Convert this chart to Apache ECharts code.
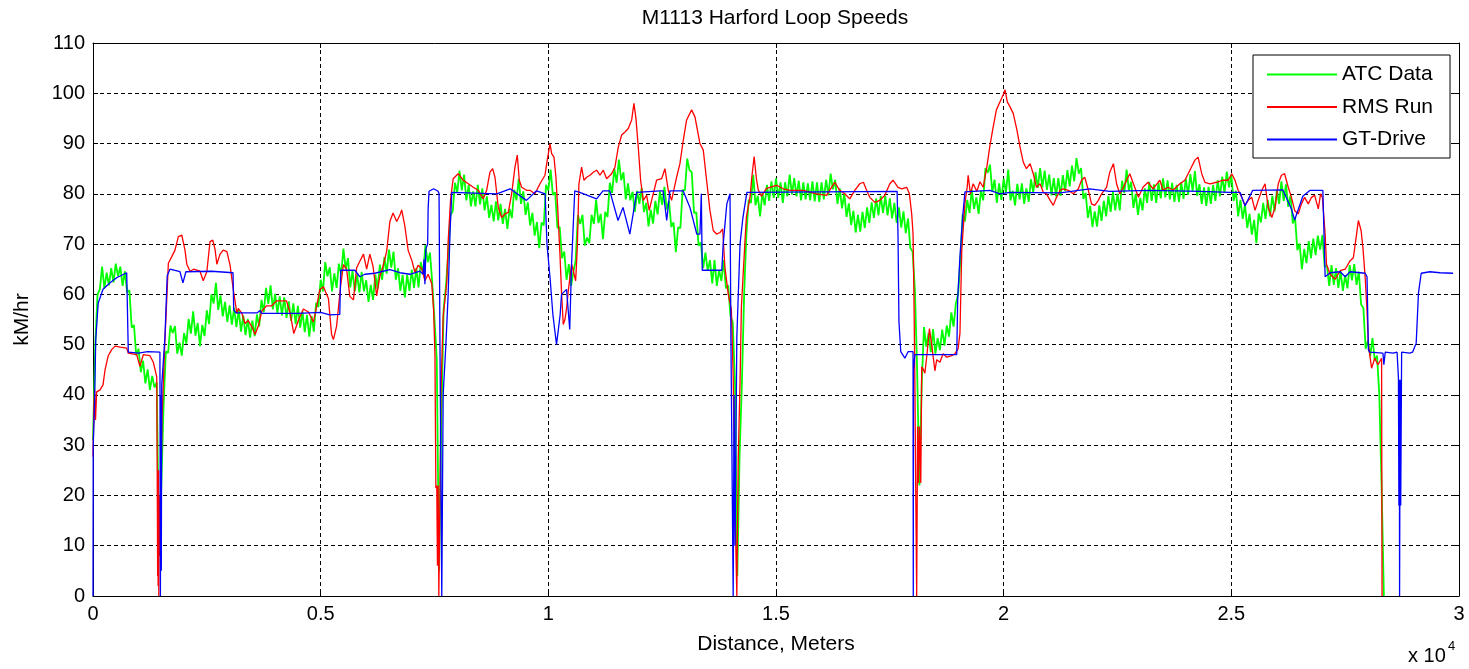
<!DOCTYPE html>
<html><head><meta charset="utf-8">
<script src="https://cdn.jsdelivr.net/npm/echarts@6/dist/echarts.min.js"></script>
<style>html,body{margin:0;padding:0;background:#fff}#c{width:1469px;height:669px}</style>
</head><body><div id="c"></div>
<script>
const chartTitle = 'M1113 Harford Loop Speeds';
const seriesNames = ['ATC Data', 'RMS Run', 'GT-Drive'];
const xTickLabels = ['0', '0.5', '1', '1.5', '2', '2.5', '3'];
const xAxisName = 'Distance, Meters';
const yAxisName = 'kM/hr';

// ATC Data: speed sampled every 50 m, starting at 0 m
const atcStep = 50;
const atcSpeed = [
31,50,60,61,65.5,61.2,64.3,61.8,65.2,62.4,66.1,63.6,65.5,61.7,64.6,60.4,60.8,53.4,53.9,47.8,
49.2,44.5,46.8,42.3,45.1,41,43.8,41.5,42.5,8,22,38,48.6,48.4,53.8,52.3,53.7,48.2,50.4,47.8,
52.3,50.2,55.1,52.2,56.6,51.8,54.3,49.7,53.9,51.7,56.8,54.1,60,58.2,62.3,56.9,59.8,55.6,58.5,54.5,
57.8,54,57.3,53.5,56.9,52.6,55.8,51.9,55.1,51.4,54.8,51.7,56,53.6,58.9,56.4,61.3,58.1,61.8,57,
60.1,56.2,59.6,55.8,59.4,55.3,58.6,54.7,58.2,54.1,57.7,53.4,56.6,52.5,55.9,51.6,55.7,52.6,58.3,57.5,
62.9,60.6,66.4,63.6,65.4,60.6,64.2,61.3,66.1,63.9,69.1,65,67.2,61.4,64.7,60.6,64,60.4,64.5,60.6,
62.8,58.5,61.9,58.9,63.9,61.1,65.9,62.9,67.4,64.1,68.9,65.3,68.5,62.9,65.2,60.7,63.9,59.4,63.9,60.7,
64.9,61.3,65.2,61.4,66.4,64.1,69.8,66.4,68.3,62.4,55,47,5,35,57,61.5,68,75.8,76.5,82.2,
80.3,84.6,80.7,83.8,78.7,81.8,77.5,80.5,77.5,81.8,77.9,81.1,76.7,79.5,75.2,77.8,74.5,78.5,74.7,78,
74,77,73,77,75.2,80.8,78.7,83,78,80.5,75.8,78.3,73.7,76.2,71.7,74.4,69.2,74.3,73.7,81.8,
80.7,84.8,79.8,80.3,73.2,73.4,67.2,68.5,62.9,66,61.7,64.5,66.7,75.8,74,75.8,69.7,71.3,70.2,75.8,
74,78.8,74.2,76,71,76.4,75.4,82.2,80.2,85,82.2,86.8,82.7,84.3,78.9,82.1,78.7,80.4,76.4,80.6,
78,81.2,76.4,78.2,73.5,76.8,74.1,78.6,75.9,80.5,77.8,81.4,76.9,78.6,73.4,74.3,68.4,73.3,73.2,80.8,
80.7,87,84.7,84.3,76.2,76.3,69.7,70.3,65.2,68.3,64.7,66.8,62.2,66.8,61.7,64.8,62.7,66.8,61.2,61.8,
55.7,54.5,42,4,28,42,60,72,78.8,78.2,83.8,77.7,79.6,75.5,80.1,77.7,81.8,78.6,82.5,79.2,
83.1,79.2,82.3,78.2,82.3,79.5,83.8,79.9,83.1,79.5,82.6,78.7,82.3,78.9,82.1,78.7,82.5,78.5,82.3,78.4,
82.3,78.9,82.8,79.7,84,80.9,82.8,78,81.1,77.1,80.1,75.4,78.1,73.8,76.6,72.3,75.8,72.5,76.4,73.2,
77.3,74.2,78.3,75.2,79.1,75.7,79.6,76.2,79.6,75.7,79.1,75.1,78.2,74.2,77.3,73.3,76.5,72.2,75.1,69.2,
68.5,61,45,22,42,53.5,49.6,52.3,48.5,53.1,48.2,51.3,48.9,53,49.8,53.8,51.6,56.4,53.6,58.2,
60,67,76,74.5,78.8,76.2,80.8,77,79.3,76,80.6,78.7,85.1,84.2,85.8,80.4,82.8,78.2,82.1,78.8,
83,80.2,84.8,78.7,80.6,77.7,82,78.9,82.1,78,81.1,78.4,82.9,80.2,84.3,81.2,85.1,81.3,84.6,80.8,
83.8,79.7,83.1,79.5,83.1,79.6,83.7,80.6,84.7,81.5,85.6,82.5,87.1,84,85.1,79,80.2,75.2,77.6,73.4,
76.5,73.5,77.7,74.6,78.6,75.5,79.6,76.4,80.4,76.7,80,76.7,82.6,80.2,84.8,80.7,82.4,77.2,80,75.8,
79.2,76.7,81.1,78.2,82.4,78.6,81.9,78.2,82.2,79.1,83.1,79.3,82.7,78.9,82.2,78.4,81.8,78.4,82.3,79,
83,79.8,83.9,80.6,84.5,79.6,81.9,78,81.3,77.6,81.4,78,81.8,78.6,82.7,79.5,83.4,80.2,84.4,81.3,
83.8,78.6,80.6,75.5,78.8,75,77.8,73.2,76,71.9,74.8,70.2,76.1,74.3,78.2,75,78.8,75.5,79.6,76.5,
80.7,78,82.5,78.6,81.9,77.4,79.7,74.1,75.2,68.8,70.1,65,69,66.2,70.6,67.2,71.1,67.8,71.7,68.9,
71.8,65.5,65.6,61.7,65.8,61.9,65.2,61.3,64.6,60.7,63.8,61.2,65.8,62.8,66,61.9,64.5,58,57.3,49.2,
50.8,47.7,51.3,46.9,47.8,40,22,0
];

// RMS Run: [distance m, speed kM/hr]
const rmsRun = [
[0,27.7],[20,38],[35,41],[55,35],[80,40.6],[155,41],[220,42],[265,45],[310,46.8],[335,47.8],[410,49],[485,49.7],[600,49.5],[740,49.3],[775,48.3],[960,48],[1030,45.7],[1105,48],[1250,47.8],[1325,46.5],[1400,43.6],[1410,25],[1420,4],[1425,22],[1430,2],[1440,25],[1445,0],[1455,20],[1470,8],[1515,35],[1580,50.9],[1655,66.2],[1730,67.5],[1800,68.8],[1875,71.5],[1950,71.8],[2020,68.8],[2060,66],[2130,64.6],[2210,65],[2350,64.6],[2420,62.7],[2500,64.5],[2570,70.5],[2630,70.8],[2680,69],[2720,66],[2790,68],[2860,68.8],[2940,68.5],[3010,65.8],[3080,61],[3160,56.2],[3190,57.2],[3270,56.2],[3340,54.2],[3410,54.8],[3490,53.5],[3560,52],[3630,53.7],[3710,56.7],[3810,57.7],[3920,57.7],[4030,58.7],[4140,58.7],[4250,58.7],[4330,56.2],[4410,52.2],[4510,54.8],[4620,57.1],[4730,56.5],[4840,54.5],[4910,57.5],[4980,60.9],[5060,61.5],[5170,59.2],[5240,52],[5280,51],[5350,53.7],[5440,61.8],[5500,65.9],[5570,65],[5640,59.6],[5720,58.9],[5790,65.3],[5860,66.6],[5940,68],[6010,65],[6080,68],[6150,65.6],[6230,59.7],[6300,63.6],[6370,65.6],[6450,68.6],[6520,74.5],[6590,76.2],[6670,74.5],[6740,75.8],[6780,76.8],[6850,73.5],[6920,68.8],[7000,66.8],[7070,64.4],[7140,65.8],[7220,65.1],[7290,62.7],[7360,64],[7440,62.1],[7480,57],[7510,48],[7530,21.5],[7550,22],[7565,6],[7580,22],[7595,0],[7620,20],[7640,40],[7690,55.6],[7770,62.4],[7800,70.5],[7855,79.1],[7910,83],[8020,84],[8059,83.7],[8132,82.7],[8242,82],[8352,81.3],[8461,80.7],[8571,79],[8645,80.7],[8718,84.3],[8777,85],[8828,83.3],[8901,77.3],[8974,75.3],[9048,76],[9121,76.3],[9194,80],[9267,85.3],[9318,87.7],[9362,82.7],[9414,81.3],[9524,80.7],[9597,80.7],[9706,80],[9816,82],[9926,83.7],[9977,86.7],[10036,90],[10073,88],[10124,87.3],[10167,83.3],[10205,77.3],[10255,68],[10292,60],[10328,54],[10365,55],[10402,57.3],[10438,60.7],[10512,66],[10548,64.7],[10600,62.7],[10636,69.3],[10672,82],[10731,85.3],[10782,82.7],[10841,83.3],[10914,83.7],[10987,84.3],[11061,84.7],[11134,83.7],[11207,84.7],[11280,83],[11390,84],[11463,85.3],[11536,89.3],[11610,91.7],[11683,92.3],[11756,93],[11830,94.7],[11880,98],[11924,95],[11975,89.3],[12027,82.7],[12085,78.7],[12159,79.7],[12216,76.7],[12268,78.7],[12378,82.7],[12488,83],[12561,85],[12634,80.7],[12707,78.7],[12817,83.3],[12890,86],[12964,90.7],[13037,94.7],[13147,96.7],[13220,95.3],[13330,90],[13403,88.7],[13476,82.7],[13549,76.7],[13622,72.7],[13696,72],[13769,72.3],[13828,73],[13879,65.3],[13952,60],[14020,57],[14060,43.6],[14100,17.8],[14140,0],[14170,27],[14210,42.3],[14240,57.5],[14280,64.2],[14320,70.8],[14350,75.4],[14430,79.4],[14470,83.4],[14520,87.4],[14570,83],[14610,80.8],[14680,79.5],[14790,81.1],[14900,81.4],[15014,81.7],[15160,81],[15310,80.7],[15600,80.7],[15890,80],[16110,79.7],[16220,81.3],[16290,82.3],[16400,80.7],[16510,80],[16620,79],[16730,80.7],[16840,82],[16920,82.3],[16990,80.7],[17060,79.3],[17170,78.3],[17280,78.7],[17390,79.7],[17500,82],[17570,82.7],[17680,81.3],[17760,81],[17870,81.3],[17930,80],[17980,76],[18010,72],[18030,59.3],[18050,42.7],[18070,20],[18090,0],[18110,33.7],[18130,22.5],[18150,33.7],[18180,22.5],[18200,45.6],[18230,45.2],[18270,44.3],[18310,47.6],[18370,53.2],[18420,50],[18460,47],[18490,44.8],[18530,47],[18600,46.5],[18670,48.2],[18750,47.5],[18860,47.8],[18930,48.2],[19000,49.2],[19040,52.3],[19080,68.8],[19150,78.2],[19200,81.4],[19220,83.7],[19270,80],[19330,82],[19410,80.5],[19480,82.4],[19550,81.3],[19630,85.3],[19700,89.7],[19770,93.3],[19840,96.7],[19920,98.3],[19990,99.7],[20030,100.7],[20080,98.3],[20140,97.3],[20210,96],[20290,92.7],[20360,89.3],[20430,86.3],[20500,85],[20580,86],[20650,84],[20720,81.3],[20800,82],[20870,80.3],[20940,80],[21020,78.7],[21090,77.7],[21160,79.3],[21240,80.7],[21310,81],[21420,80.7],[21530,80],[21640,81],[21710,82.7],[21780,83.3],[21860,80.7],[21930,78],[22000,77.7],[22080,78.7],[22150,80],[22260,81.3],[22330,84.3],[22410,86],[22480,82],[22550,80],[22630,81.3],[22700,82.7],[22770,84],[22850,82],[22960,79.3],[23060,81.3],[23170,82.3],[23280,81],[23430,82.7],[23500,80.7],[23610,81.3],[23720,80.7],[23870,82],[23980,82.7],[24090,84.7],[24200,86.7],[24270,87.3],[24350,84],[24420,82.3],[24530,82],[24680,82.3],[24820,82.7],[24930,82.7],[25010,84],[25080,82.7],[25150,80.7],[25230,79.3],[25300,77.7],[25370,78.7],[25450,79.3],[25520,76.7],[25590,78.7],[25670,80.7],[25740,82],[25810,77.3],[25890,75.3],[25960,77.3],[26030,82],[26100,83.7],[26170,84],[26250,81.3],[26320,79.3],[26390,76.7],[26470,76],[26540,78],[26610,79.3],[26690,78],[26760,79.3],[26830,79.7],[26910,77],[26960,80],[27000,79.3],[27060,72],[27090,66],[27170,64],[27280,63],[27390,64.7],[27500,65],[27610,66.7],[27680,67.3],[27740,71.3],[27790,74.7],[27850,72.7],[27890,69.3],[27940,63.3],[27980,56.7],[28010,50],[28040,48],[28080,45.3],[28150,47.3],[28220,46],[28300,47.3],[28310,0]
];

// GT-Drive: [distance m, speed kM/hr]
const gtDrive = [
[0,0],[5,30],[33,38],[60,51],[95,55.7],[115,58.3],[220,61],[375,62.3],[520,63.3],[740,64.3],[770,64.3],[775,48.5],[1000,48.3],[1200,48.6],[1470,48.5],[1480,0],[1490,40],[1500,5],[1510,42],[1545,42],[1580,51.5],[1630,63.7],[1690,65],[1910,64.5],[1940,64.5],[1975,62.3],[2040,64.5],[2600,64.6],[3075,64.3],[3090,56.9],[3140,56.3],[3600,56.3],[3670,56.8],[3700,56.2],[4500,56.2],[5000,56.4],[5200,55.9],[5420,56],[5440,64.8],[5750,64.8],[5860,63.5],[5970,64],[6190,64.2],[6520,64.9],[6740,64.3],[6960,64],[7180,64.6],[7250,64],[7270,67],[7290,62],[7310,69],[7350,70],[7360,77],[7380,80.5],[7480,81],[7580,80.5],[7600,80],[7620,50],[7660,0],[7690,40],[7750,50],[7800,60],[7840,72],[7880,80.3],[8870,80],[9160,81],[9520,78.7],[9740,80.6],[9930,80],[9970,70],[10040,63],[10100,56],[10180,50],[10260,56],[10290,60],[10400,61],[10470,53],[10510,66],[10580,80.6],[10690,80.3],[11060,79],[11200,80.6],[11350,80.6],[11530,74.7],[11640,77.3],[11790,72],[11940,80.3],[12450,80.6],[12520,80.6],[12600,74.7],[12670,80.6],[12960,80.6],[13110,77.3],[13260,72],[13330,72],[13360,80],[13380,64.8],[13810,64.8],[13840,70],[13920,78],[13990,80],[14010,51],[14060,0],[14080,40],[14100,10],[14140,51.6],[14210,70],[14270,75],[14360,80.3],[17660,80.5],[17680,71.5],[17700,54.6],[17740,48.6],[17830,47.3],[17900,48.6],[18010,48.6],[18015,0],[18020,45],[18050,48],[18970,48],[18990,59],[19040,67.5],[19100,75.5],[19150,80.4],[19700,80.7],[19920,80],[20140,80.3],[21240,80.2],[21890,81],[22330,80.5],[23210,80.7],[24310,80.5],[24970,80.3],[25190,80.3],[25300,77.6],[25470,80.7],[26130,80.8],[26320,77],[26390,74.8],[26570,79.5],[26730,80.7],[27010,80.7],[27060,63.5],[27170,64.3],[27390,64.5],[27500,63.5],[27610,64.5],[27940,64.2],[27980,63.5],[28010,49],[28040,48.5],[28330,48.3],[28350,46],[28380,48.5],[28550,48.3],[28640,48.5],[28670,43.3],[28680,18],[28690,43],[28695,0],[28700,18],[28710,43],[28720,18],[28740,48.5],[28920,48.3],[28980,48.5],[29060,50.3],[29110,60.3],[29170,64.2],[29360,64.5],[29580,64.3],[29870,64.2]
];

const FONT = "'Liberation Sans', Arial, sans-serif";
const atcData = atcSpeed.map((v, i) => [i * atcStep, v]);

const chart = echarts.init(document.getElementById('c'), null, {renderer: 'canvas'});
const gridDash = {type: [4, 3], color: '#000', width: 1};
const axisBase = {
  axisLine: {show: true, onZero: false, lineStyle: {color: '#000', width: 1}},
  axisTick: {show: true, inside: true, length: 5, lineStyle: {color: '#000', width: 1}}
};
chart.setOption({
  animation: false,
  backgroundColor: '#fff',
  title: {
    text: chartTitle, left: 775, top: 8, textAlign: 'center', padding: 0,
    textStyle: {fontFamily: FONT, fontSize: 21, fontWeight: 'normal', color: '#000'}
  },
  legend: {
    data: seriesNames, orient: 'vertical', left: 1253, top: 55,
    padding: [9, 17, 8, 14], itemGap: 11.5, itemWidth: 70, itemHeight: 2, icon: 'rect',
    borderColor: '#000', borderWidth: 1, backgroundColor: '#fff', borderRadius: 0,
    textStyle: {fontFamily: FONT, fontSize: 21, color: '#000'}
  },
  grid: {left: 93, right: 10, top: 43, bottom: 73, containLabel: false},
  xAxis: [
    Object.assign({
      type: 'value', min: 0, max: 30000, interval: 5000, position: 'bottom',
      axisLabel: {formatter: (v) => xTickLabels[Math.round(v / 5000)], fontFamily: FONT, fontSize: 20, color: '#000', margin: 8},
      splitLine: {show: true, lineStyle: gridDash},
      name: xAxisName, nameLocation: 'middle', nameGap: 38,
      nameTextStyle: {fontFamily: FONT, fontSize: 21, color: '#000'}
    }, axisBase),
    Object.assign({
      type: 'value', min: 0, max: 30000, interval: 5000, position: 'top',
      axisLabel: {show: false}, splitLine: {show: false}
    }, axisBase)
  ],
  yAxis: [
    Object.assign({
      type: 'value', min: 0, max: 110, interval: 10, position: 'left',
      axisLabel: {fontFamily: FONT, fontSize: 20, color: '#000', margin: 8},
      splitLine: {show: true, lineStyle: gridDash},
      name: yAxisName, nameLocation: 'middle', nameGap: 60,
      nameTextStyle: {fontFamily: FONT, fontSize: 21, color: '#000'}
    }, axisBase),
    Object.assign({
      type: 'value', min: 0, max: 110, interval: 10, position: 'right',
      axisLabel: {show: false}, splitLine: {show: false}
    }, axisBase)
  ],
  series: [
    {name: seriesNames[0], type: 'line', data: atcData, showSymbol: false, symbol: 'none',
     lineStyle: {color: '#00ff00', width: 1.8}, itemStyle: {color: '#00ff00'}, z: 2},
    {name: seriesNames[1], type: 'line', data: rmsRun, showSymbol: false, symbol: 'none',
     lineStyle: {color: '#ff0000', width: 1.3}, itemStyle: {color: '#ff0000'}, z: 3},
    {name: seriesNames[2], type: 'line', data: gtDrive, showSymbol: false, symbol: 'none',
     lineStyle: {color: '#0000ff', width: 1.3}, itemStyle: {color: '#0000ff'}, z: 4}
  ],
  graphic: [
    {type: 'text', left: 1408, top: 646, style: {text: 'x 10', font: '20px ' + FONT, fill: '#000'}},
    {type: 'text', left: 1448, top: 640, style: {text: '4', font: '13px ' + FONT, fill: '#000'}}
  ]
});
</script>
</body></html>
